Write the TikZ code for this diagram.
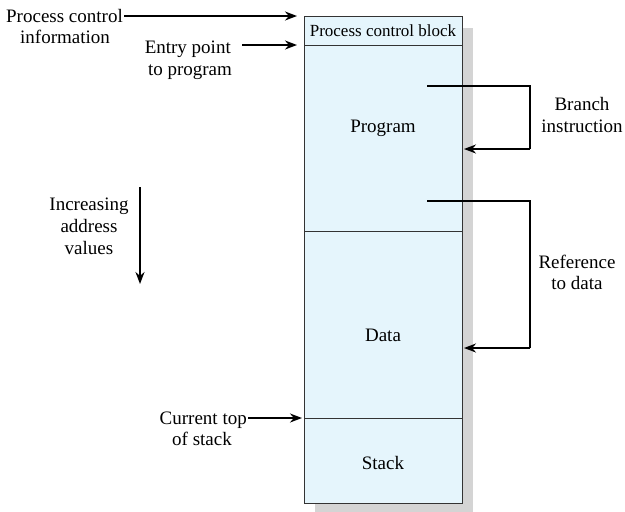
\documentclass[tikz,border=0pt]{standalone}
\usepackage{fontspec}
\setmainfont{Liberation Serif}
\usetikzlibrary{arrows.meta}
\definecolor{boxfill}{HTML}{E5F5FC}
\definecolor{shadowgray}{HTML}{D4D4D4}
\definecolor{lineclr}{HTML}{333333}
\begin{document}
\begin{tikzpicture}[x=1pt,y=-1pt,
  lbl/.style={font=\fontsize{19}{22}\selectfont, anchor=base, inner sep=1pt},
  arr/.style={draw=black, line width=1.8pt, -{Stealth[length=12pt,width=9pt]}},
  seg/.style={draw=lineclr, line width=1pt, fill=boxfill},
  conn/.style={draw=black, line width=1.8pt}]
\useasboundingbox (0,0) rectangle (625,512);
% shadow
\fill[shadowgray] (315,28) rectangle (473,512);
% segments
\draw[seg] (304,16) rectangle (462,45);
\draw[seg] (304,45) rectangle (462,231);
\draw[seg] (304,231) rectangle (462,418);
\draw[seg] (304,418) rectangle (462,503);
% coordinates
\coordinate (pcbtop) at (297,16);
\coordinate (progtop) at (297,45);
\coordinate (stacktop) at (302,418);
\coordinate (brsrc) at (427,86);
\coordinate (brdst) at (464,149);
\coordinate (refsrc) at (427,201);
\coordinate (refdst) at (464,348);
% texts inside the block
\node[lbl, font=\fontsize{17}{20}\selectfont] (pcb) at (383,36) {Process control block};
\node[lbl] (prog) at (383,132) {Program};
\node[lbl] (data) at (383,341) {Data};
\node[lbl] (stack) at (383,469) {Stack};
% texts outside
\node[lbl, anchor=base east] (pci1) at (124,22) {Process control};
\node[lbl] (pci2) at (65,43) {information};
\node[lbl, anchor=base east] (ep1) at (232,53) {Entry point};
\node[lbl] (ep2) at (190,75) {to program};
\node[lbl, anchor=base east] (ct1) at (248,424) {Current top};
\node[lbl] (ct2) at (202,445) {of stack};
\node[lbl] (br1) at (582,110) {Branch};
\node[lbl] (br2) at (582,132) {instruction};
\node[lbl] (rf1) at (577,268) {Reference};
\node[lbl] (rf2) at (577,289) {to data};
\node[lbl] (in1) at (89,210) {Increasing};
\node[lbl] (in2) at (89,232) {address};
\node[lbl] (in3) at (89,254) {values};
\coordinate (incA) at (140,187);
\coordinate (incB) at (140,284);
% arrows
\draw[arr] (pci1.base east |- pcbtop) -- (pcbtop);
\draw[arr] (242,45) -- (progtop);
\draw[arr] (ct1.base east |- stacktop) -- (stacktop);
\draw[arr] (incA) -- (incB);
\draw[conn] (brsrc) -- (530,86) -- (530,149);
\draw[arr] (530,149) -- (brdst);
\draw[conn] (refsrc) -- (530,201) -- (530,348);
\draw[arr] (530,348) -- (refdst);
\end{tikzpicture}
\end{document}
